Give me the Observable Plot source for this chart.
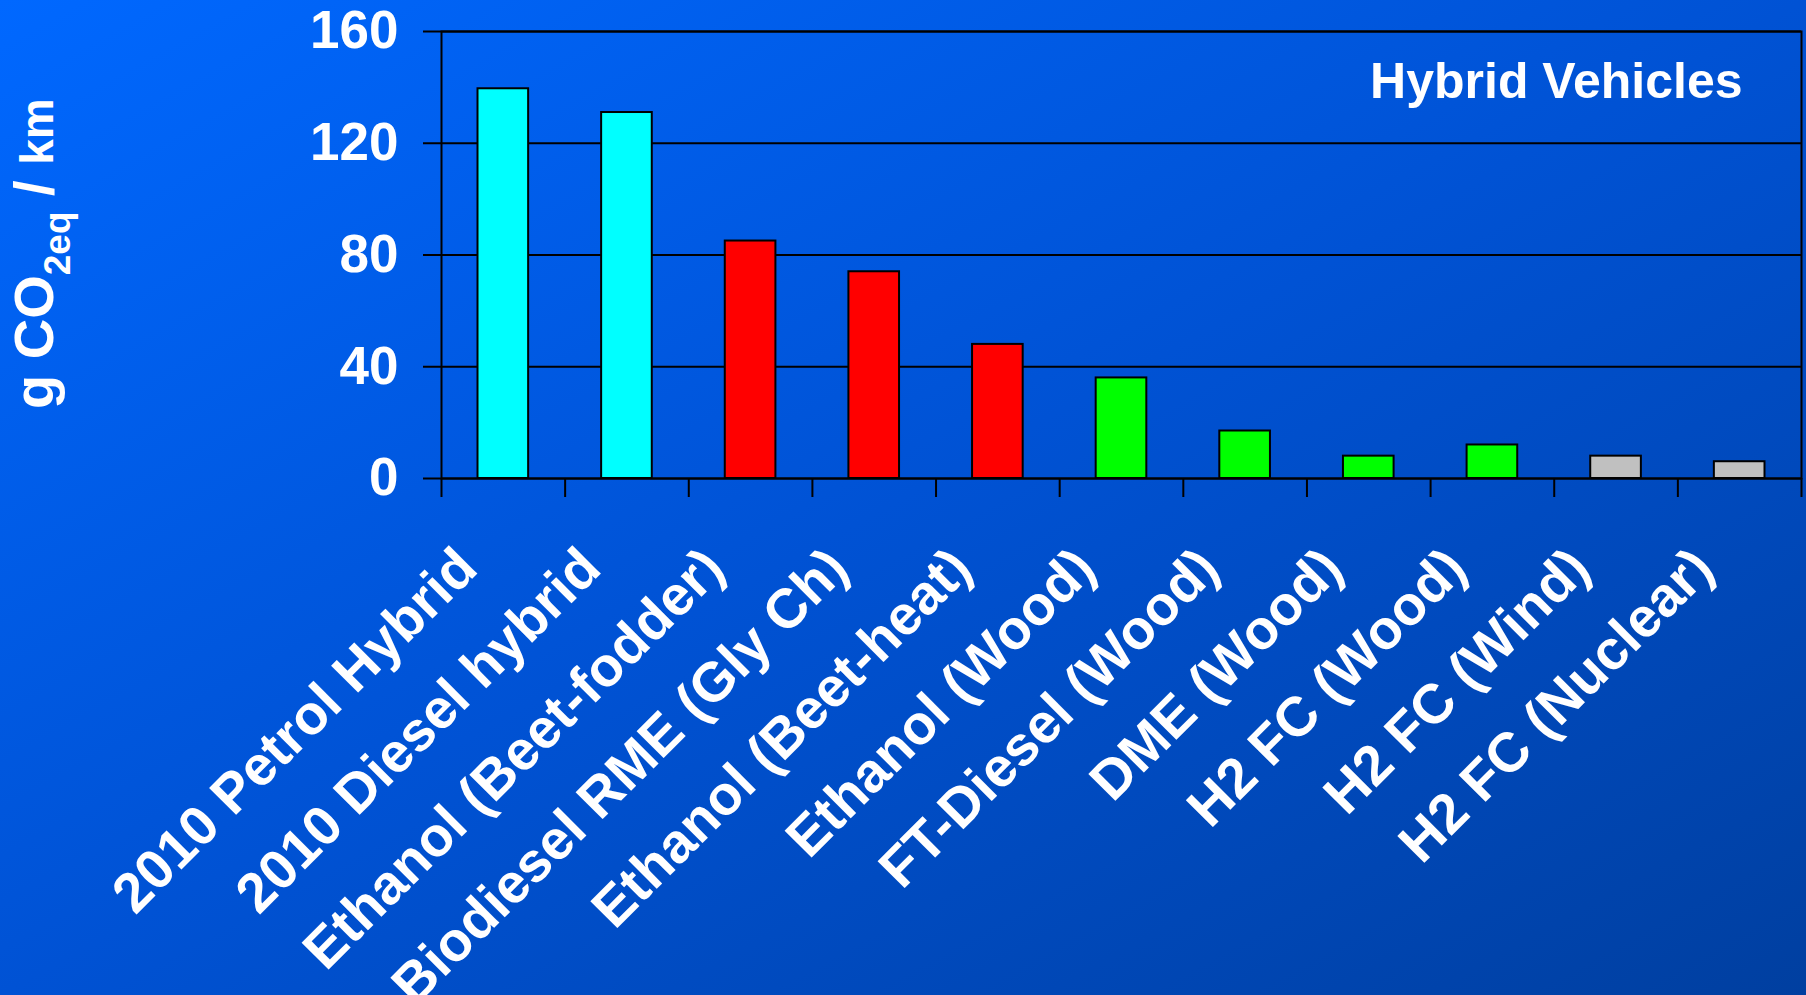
<!DOCTYPE html>
<html>
<head>
<meta charset="utf-8">
<script src="https://cdn.jsdelivr.net/npm/d3@7"></script>
<script src="https://cdn.jsdelivr.net/npm/@observablehq/plot@0.6"></script>
<style>
  html, body { margin: 0; padding: 0; overflow: hidden; }
  body {
    width: 1806px; height: 995px;
    background: linear-gradient(to bottom right, #0068ff 0%, #0052d4 50%, #003fa0 100%);
    font-family: "Liberation Sans", Arial, sans-serif;
  }
  #chart svg { display: block; }
</style>
</head>
<body>
<div id="chart"></div>
<script>
// ---- data ----
const categories = [
  "2010 Petrol Hybrid", "2010 Diesel hybrid", "Ethanol (Beet-fodder)",
  "Biodiesel RME (Gly Ch)", "Ethanol (Beet-heat)", "Ethanol (Wood)",
  "FT-Diesel (Wood)", "DME (Wood)", "H2 FC (Wood)", "H2 FC (Wind)", "H2 FC (Nuclear)"
];
const values = [139.5, 131, 85, 74, 48, 36, 17, 8, 12, 8, 6];
const groups = ["fossil", "fossil", "crop", "crop", "crop", "wood", "wood", "wood", "wood", "other", "other"];
const groupNames = ["fossil", "crop", "wood", "other"];
const groupColors = ["#00ffff", "#ff0000", "#00ff00", "#c0c0c0"];
const yTicks = [0, 40, 80, 120, 160];
const panelLabel = "Hybrid Vehicles";

const data = categories.map((name, i) => ({name, i, value: values[i], group: groups[i]}));
const boundaries = d3.range(0, categories.length + 1);

const chart = Plot.plot({
  width: 1806,
  height: 995,
  marginLeft: 441,
  marginRight: 5,
  marginTop: 31,
  marginBottom: 517,
  style: {background: "transparent", color: "black", fontFamily: "'Liberation Sans', Arial, sans-serif", fontWeight: "bold", overflow: "visible"},
  x: {type: "linear", domain: [0, categories.length], axis: null},
  y: {domain: [0, 160], axis: null},
  color: {domain: groupNames, range: groupColors},
  marks: [
    Plot.gridY({ticks: yTicks, stroke: "black", strokeOpacity: 1, strokeWidth: 2}),
    Plot.rectY(data, {x1: "i", x2: d => d.i + 1, y: "value", fill: "group", stroke: "black", strokeWidth: 2, insetLeft: 36.5, insetRight: 36.5}),
    Plot.frame({stroke: "black", strokeWidth: 2}),
    Plot.axisY({ticks: yTicks, tickSize: 18, tickPadding: 25, fontSize: 53, fill: "white", stroke: "black", strokeWidth: 2, label: null}),
    Plot.axisX({ticks: boundaries, tickSize: 19, tickFormat: () => "", stroke: "black", strokeWidth: 2, label: null}),
    Plot.text(data, {x: d => d.i + 0.5, y: () => 0, text: "name", rotate: -45, textAnchor: "end", dx: -36, dy: 80, fontSize: 55.5, fill: "white", fontWeight: "bold"}),
    Plot.text([panelLabel], {text: d => d, frameAnchor: "top-right", textAnchor: "end", dx: -59, dy: 31, fontSize: 50, fill: "white", fontWeight: "bold"})
  ]
});

// y-axis title with subscript
const t = d3.select(chart).append("text")
  .attr("transform", "translate(53,409) rotate(-90)")
  .attr("text-anchor", "start")
  .attr("fill", "white")
  .attr("font-weight", "bold")
  .attr("font-family", "'Liberation Sans', Arial, sans-serif");
t.append("tspan").attr("font-size", 56).text("g CO");
t.append("tspan").attr("font-size", 37).attr("dy", 17).text("2eq");
t.append("tspan").attr("font-size", 56).attr("dy", -17).text(" / ");
t.append("tspan").attr("font-size", 46).text("km");

document.getElementById("chart").appendChild(chart);
</script>
</body>
</html>
